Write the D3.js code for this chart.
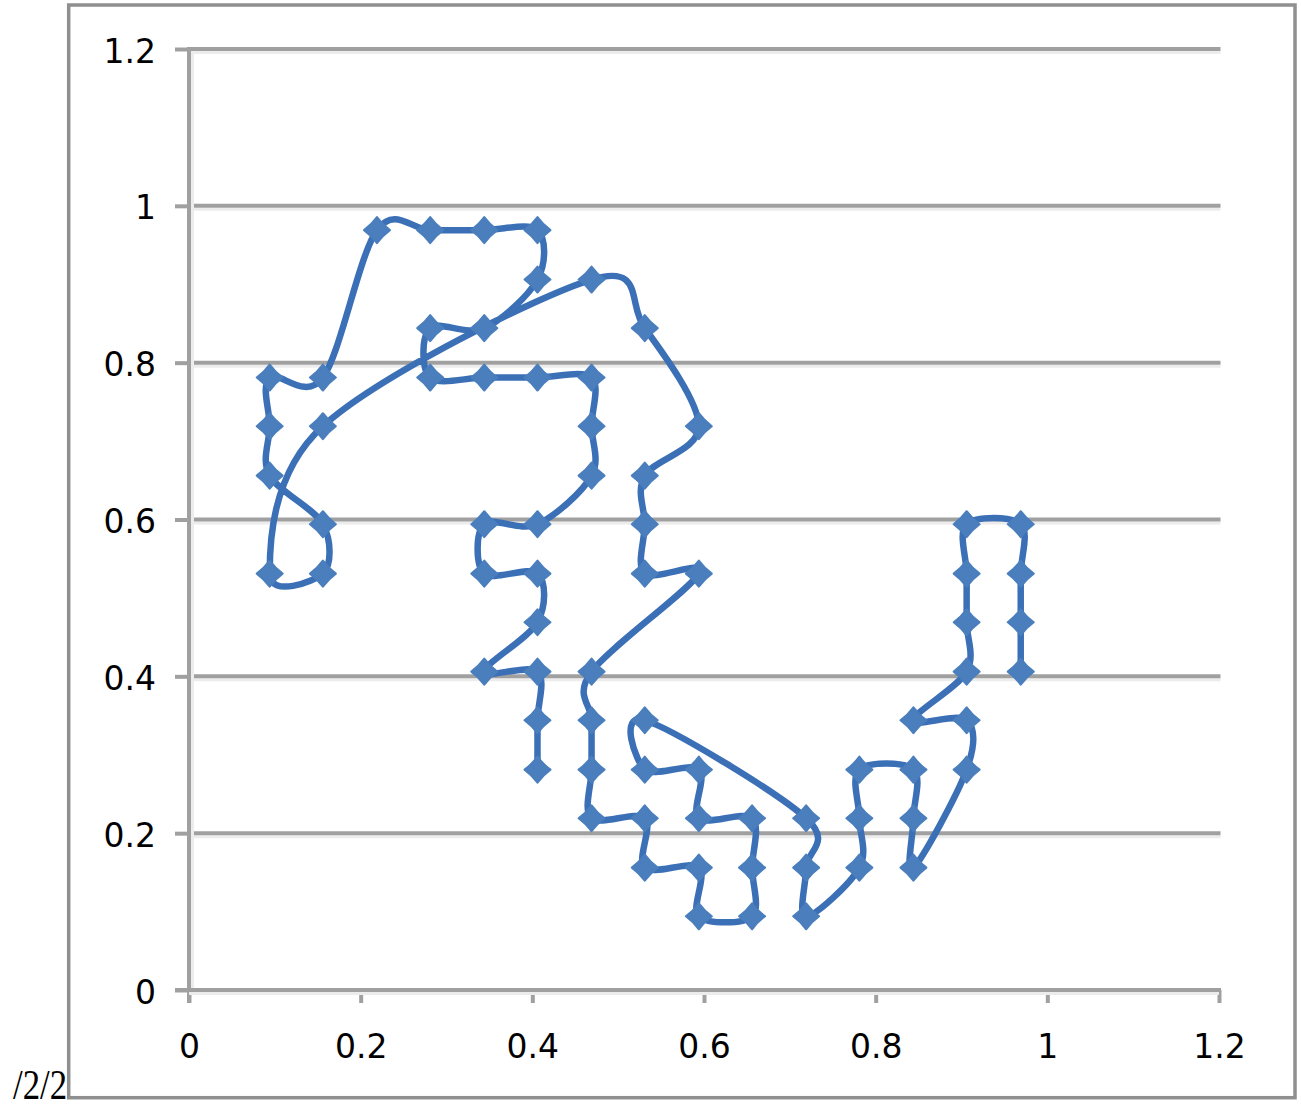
<!DOCTYPE html>
<html>
<head>
<meta charset="utf-8">
<script src="https://cdn.jsdelivr.net/npm/d3@7"></script>
<style>
  html, body { margin: 0; padding: 0; background: #ffffff; }
  svg { display: block; }
</style>
</head>
<body>
<svg id="chart" width="1301" height="1108"></svg>
<script>
// ---- data ----
const xValues = [
  0.969, 0.969, 0.969, 0.969, 0.906, 0.906, 0.906, 0.906, 0.844, 0.906,
  0.906, 0.844, 0.844, 0.844, 0.781, 0.781, 0.781, 0.719, 0.719, 0.719,
  0.531, 0.531, 0.594, 0.594, 0.656, 0.656, 0.656, 0.594, 0.594, 0.531,
  0.531, 0.469, 0.469, 0.469, 0.469, 0.594, 0.531, 0.531, 0.531, 0.594,
  0.531, 0.469, 0.156, 0.094, 0.156, 0.156, 0.094, 0.094, 0.094, 0.156,
  0.219, 0.281, 0.344, 0.406, 0.406, 0.344, 0.281, 0.281, 0.344, 0.406,
  0.469, 0.469, 0.469, 0.406, 0.344, 0.344, 0.406, 0.406, 0.344, 0.406,
  0.406, 0.406
];
const yValues = [
  0.406, 0.469, 0.531, 0.594, 0.594, 0.531, 0.469, 0.406, 0.344, 0.344,
  0.281, 0.156, 0.219, 0.281, 0.281, 0.219, 0.156, 0.094, 0.156, 0.219,
  0.344, 0.281, 0.281, 0.219, 0.219, 0.156, 0.094, 0.094, 0.156, 0.156,
  0.219, 0.219, 0.281, 0.344, 0.406, 0.531, 0.531, 0.594, 0.656, 0.719,
  0.844, 0.906, 0.719, 0.531, 0.531, 0.594, 0.656, 0.719, 0.781, 0.781,
  0.969, 0.969, 0.969, 0.969, 0.906, 0.844, 0.844, 0.781, 0.781, 0.781,
  0.781, 0.719, 0.656, 0.594, 0.594, 0.531, 0.531, 0.469, 0.406, 0.406,
  0.344, 0.281
];
const xTickValues = [0, 0.2, 0.4, 0.6, 0.8, 1, 1.2];
const xTickLabels = ["0", "0.2", "0.4", "0.6", "0.8", "1", "1.2"];
const yTickValues = [0, 0.2, 0.4, 0.6, 0.8, 1, 1.2];
const yTickLabels = ["0", "0.2", "0.4", "0.6", "0.8", "1", "1.2"];
const cornerNote = "/2/2";

// ---- drawing ----
const svg = d3.select("#chart");
const x = d3.scaleLinear().domain([0, 1.2]).range([189, 1219]);
const y = d3.scaleLinear().domain([0, 1.2]).range([990, 49]);

const axisColor = "#a0a0a0";
const lightColor = "#ececec";
const labelFont = "'DejaVu Sans', Verdana, sans-serif";

// chart outer border
svg.append("rect")
  .attr("x", 68.7).attr("y", 5)
  .attr("width", 1226.3).attr("height", 1092.7)
  .attr("fill", "none").attr("stroke", "#8f8f8f").attr("stroke-width", 3.5);

// horizontal gridlines (with light shadow line below)
const grid = svg.append("g");
yTickValues.filter(v => v > 0).forEach(v => {
  grid.append("line")
    .attr("x1", x(0)).attr("x2", x(1.2) + 1.5)
    .attr("y1", y(v) + 3.5).attr("y2", y(v) + 3.5)
    .attr("stroke", lightColor).attr("stroke-width", 3);
  grid.append("line")
    .attr("x1", x(0)).attr("x2", x(1.2) + 1.5)
    .attr("y1", y(v)).attr("y2", y(v))
    .attr("stroke", axisColor).attr("stroke-width", 4);
});

// y axis
const yAxis = d3.axisLeft(y)
  .tickValues(yTickValues)
  .tickFormat((d, i) => yTickLabels[i])
  .tickSize(14).tickSizeOuter(0);
const gy = svg.append("g").attr("transform", `translate(${x(0)},0)`).call(yAxis);
gy.select(".domain").remove();
gy.selectAll(".tick line").attr("stroke", axisColor).attr("stroke-width", 4);
gy.append("line")
  .attr("x1", 3.5).attr("x2", 3.5).attr("y1", y(1.2) + 2).attr("y2", y(0) + 2)
  .attr("stroke", lightColor).attr("stroke-width", 3);
gy.append("line")
  .attr("x1", 0).attr("x2", 0).attr("y1", y(1.2) - 2).attr("y2", y(0) + 13)
  .attr("stroke", axisColor).attr("stroke-width", 4);
gy.selectAll(".tick text")
  .attr("x", -33).attr("dy", null).attr("y", 13)
  .attr("text-anchor", "end")
  .attr("fill", "#000")
  .style("font-family", labelFont)
  .style("font-size", "33px");

// x axis
const xAxis = d3.axisBottom(x)
  .tickValues(xTickValues)
  .tickFormat((d, i) => xTickLabels[i])
  .tickSize(13).tickSizeOuter(0);
const gx = svg.append("g").attr("transform", `translate(0,${y(0)})`).call(xAxis);
gx.select(".domain").remove();
gx.selectAll(".tick line").attr("stroke", axisColor).attr("stroke-width", 4);
gx.append("line")
  .attr("x1", x(0)).attr("x2", x(1.2)).attr("y1", 3.5).attr("y2", 3.5)
  .attr("stroke", lightColor).attr("stroke-width", 3);
gx.append("line")
  .attr("x1", x(0) - 14).attr("x2", x(1.2) + 2).attr("y1", 0).attr("y2", 0)
  .attr("stroke", axisColor).attr("stroke-width", 4);
gx.selectAll(".tick text")
  .attr("y", 68).attr("dy", null)
  .attr("fill", "#000")
  .style("font-family", labelFont)
  .style("font-size", "33px");

// series
const points = xValues.map((v, i) => ({ x: v, y: yValues[i] }));
const line = d3.line()
  .x(d => x(d.x)).y(d => y(d.y))
  .curve(d3.curveCatmullRom.alpha(0));
svg.append("path")
  .datum(points)
  .attr("d", line)
  .attr("fill", "none")
  .attr("stroke", "#3b70b7")
  .attr("stroke-width", 6.5)
  .attr("stroke-linejoin", "round")
  .attr("stroke-linecap", "round");

const diamond = "M0,-13 Q5.5,-5.5 13,0 Q5.5,5.5 0,13 Q-5.5,5.5 -13,0 Q-5.5,-5.5 0,-13Z";
svg.append("g").selectAll("path")
  .data(points)
  .join("path")
  .attr("d", diamond)
  .attr("transform", d => `translate(${x(d.x)},${y(d.y)})`)
  .attr("fill", "#4a7ebd")
  .attr("stroke", "#4a7ebd")
  .attr("stroke-width", 2)
  .attr("stroke-linejoin", "round");

// corner note
svg.append("text")
  .attr("x", 13).attr("y", 1099)
  .attr("fill", "#000")
  .attr("textLength", 54)
  .attr("lengthAdjust", "spacingAndGlyphs")
  .style("font-family", "'Liberation Serif', 'DejaVu Serif', serif")
  .style("font-size", "42px")
  .text(cornerNote);
</script>
</body>
</html>
